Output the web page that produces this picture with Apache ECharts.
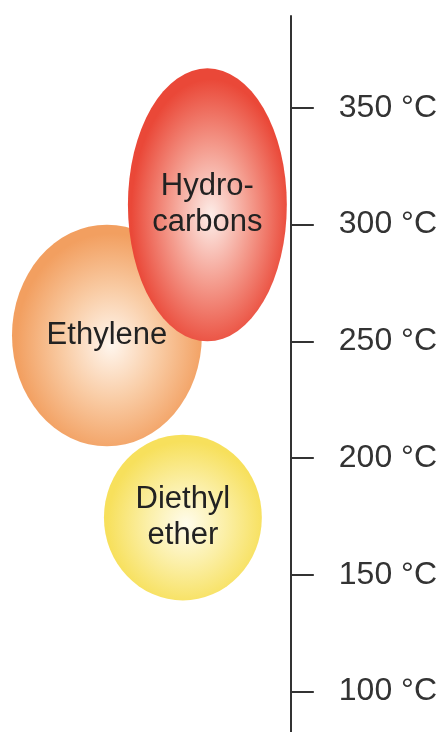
<!DOCTYPE html>
<html>
<head>
<meta charset="utf-8">
<title>Temperature ranges</title>
<script src="https://cdn.jsdelivr.net/npm/echarts@6/dist/echarts.min.js"></script>
<style>
  html, body { margin: 0; padding: 0; background: #fff; }
  #chart { width: 440px; height: 732px; }
</style>
</head>
<body>
<div id="chart"></div>
<script>
// products and the temperature range (°C) where each is formed
var products = ['Diethyl\nether', 'Ethylene', 'Hydro-\ncarbons'];
var tempLow = [139, 205, 250];
var tempHigh = [210, 300, 367];
var tickValues = [100, 150, 200, 250, 300, 350];

// where each bubble sits sideways (dummy x axis 0..291) and its half width
var bubbleX = [183, 107, 207.5];
var bubbleHalfW = [79, 95, 79.5];
var bubbleColors = [
  ['#fffcec', '#fbefa6', '#f7e05c'],
  ['#fff6ee', '#f9cca5', '#f29f60'],
  ['#fdeee9', '#f49c8e', '#ea4838']
];

var mychart = echarts.init(document.getElementById('chart'));

var data = products.map(function (p, i) {
  return [bubbleX[i], tempLow[i], tempHigh[i], bubbleHalfW[i]];
});

var option = {
  backgroundColor: '#fff',
  animation: false,
  grid: { left: 0, right: 149, top: 16, bottom: 0 },
  xAxis: { type: 'value', min: 0, max: 291, show: false },
  yAxis: {
    type: 'value',
    position: 'right',
    min: 82.6,
    max: 389.4,
    splitLine: { show: false },
    axisLine: { show: true, onZero: false, lineStyle: { color: '#333', width: 2 } },
    axisTick: {
      show: true,
      length: 23,
      customValues: tickValues,
      lineStyle: { color: '#333', width: 2 }
    },
    axisLabel: {
      customValues: tickValues,
      margin: 48,
      fontSize: 32,
      color: '#333',
      fontFamily: 'Liberation Sans, Arial, sans-serif',
      formatter: '{value} °C'
    }
  },
  series: [{
    type: 'custom',
    data: data,
    renderItem: function (params, api) {
      var i = params.dataIndex;
      var top = api.coord([api.value(0), api.value(2)]);
      var bot = api.coord([api.value(0), api.value(1)]);
      var rx = api.size([api.value(3), 0])[0];
      var ry = (bot[1] - top[1]) / 2;
      var cy = (bot[1] + top[1]) / 2;
      var c = bubbleColors[i];
      return {
        type: 'group',
        children: [{
          type: 'circle',
          x: top[0],
          y: cy,
          scaleY: ry / rx,
          shape: { cx: 0, cy: 0, r: rx },
          style: {
            fill: new echarts.graphic.RadialGradient(0.52, 0.54, 0.5, [
              { offset: 0, color: c[0] },
              { offset: 0.5, color: c[1] },
              { offset: 1, color: c[2] }
            ])
          }
        }, {
          type: 'text',
          x: top[0],
          y: cy,
          z2: 10,
          style: {
            text: products[i],
            fontSize: 31,
            lineHeight: 36,
            fontFamily: 'Liberation Sans, Arial, sans-serif',
            fill: '#222',
            align: 'center',
            verticalAlign: 'middle'
          }
        }]
      };
    }
  }]
};

mychart.setOption(option);
</script>
</body>
</html>
